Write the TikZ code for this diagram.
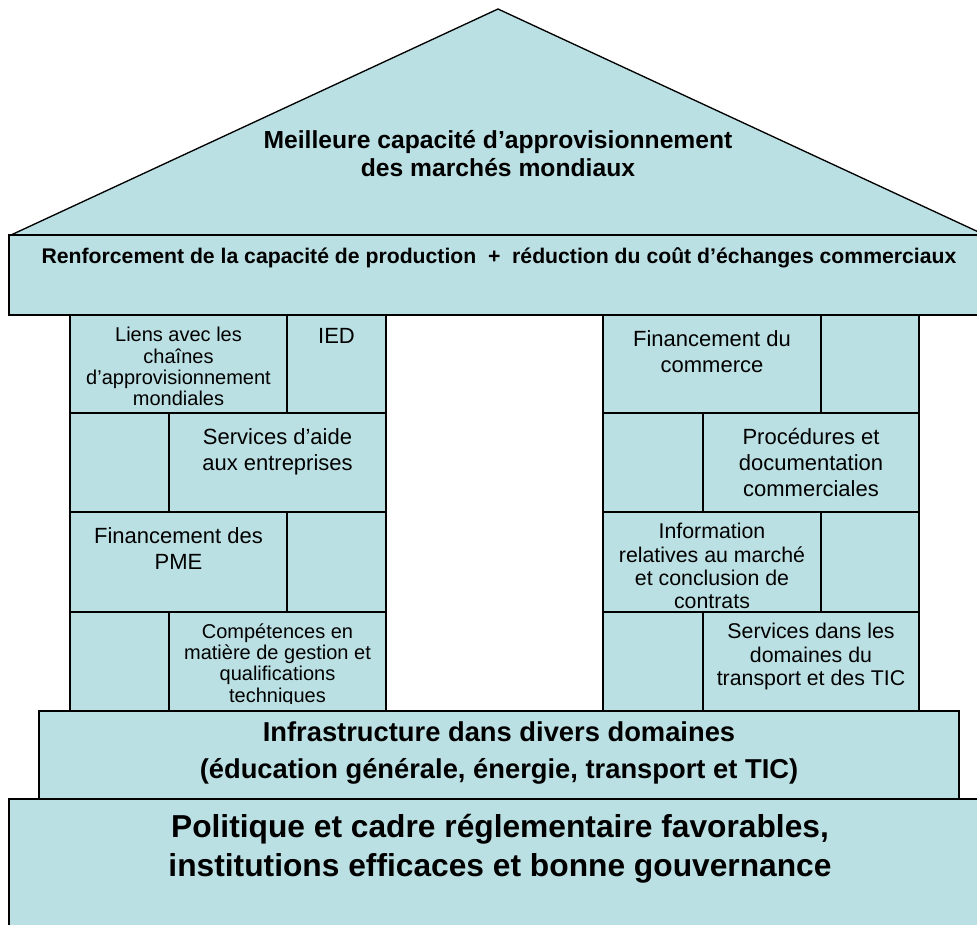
\documentclass[tikz,border=0pt]{standalone}
\usepackage{fontspec}
\setmainfont{Liberation Sans}
\definecolor{bleumaison}{RGB}{187,224,227}

\begin{document}
\begin{tikzpicture}[x=0.75pt,y=-0.75pt,
	bloc/.style={fill=bleumaison,draw=black,line width=1pt},
	grand/.style={anchor=north,align=center,inner sep=0pt,font=\fontsize{16.5pt}{19.5pt}\selectfont},
	moyen/.style={anchor=north,align=center,inner sep=0pt,font=\fontsize{16pt}{17.5pt}\selectfont},
	petit/.style={anchor=north,align=center,inner sep=0pt,font=\fontsize{15pt}{16pt}\selectfont}]
	\useasboundingbox (0,0) rectangle (977,924);
	\filldraw[bloc] (11,235) -- (498,9) -- (985,235) -- cycle; %toit
	\node[align=center,font=\bfseries\fontsize{18.5pt}{21pt}\selectfont] (toit) at (498,154)
		{Meilleure capacité d’approvisionnement\\des marchés mondiaux};
	\filldraw[bloc] (9,235) rectangle (985,315); %poutre
	\node[font=\bfseries\fontsize{15.9pt}{18pt}\selectfont] (poutre) at (499,258)
		{Renforcement de la capacité de production\ \ +\ \ réduction du coût d’échanges commerciaux};
	\foreach \xa/\ya/\xb/\yb in {70/315/287/413, 287/315/386/413, 70/413/169/512, 169/413/386/512,
		70/512/287/612, 287/512/386/612, 70/612/169/711, 169/612/386/711,
		603/315/821/413, 821/315/919/413, 603/413/703/512, 703/413/919/512,
		603/512/821/612, 821/512/919/612, 603/612/703/711, 703/612/919/711}{ %briques
		\filldraw[bloc] (\xa,\ya) rectangle (\xb,\yb);
	}
	%pilier gauche
	\node[petit] (liens) at (178.5,327) {Liens avec les\\chaînes\\d’approvisionnement\\mondiales};
	\node[grand] (ied) at (336.5,328) {IED};
	\node[grand] (aide) at (277.5,428) {Services d’aide\\aux entreprises};
	\node[grand] (pme) at (178.5,527) {Financement des\\PME};
	\begin{scope}
		\clip (169,612) rectangle (386,703); %texte coupe
		\node[petit] (competences) at (277.5,623) {Compétences en\\matière de gestion et\\qualifications\\techniques};
	\end{scope}
	%pilier droit
	\node[grand] (commerce) at (712,330) {Financement du\\commerce};
	\node[grand] (procedures) at (811,428) {Procédures et\\documentation\\commerciales};
	\node[moyen] (information) at (712,523) {Information\\relatives au marché\\et conclusion de\\contrats};
	\node[moyen] (transport) at (811,623) {Services dans les\\domaines du\\transport et des TIC};
	\filldraw[bloc] (39,711) rectangle (959,799); %infrastructure
	\node[align=center,font=\bfseries\fontsize{20.5pt}{27.5pt}\selectfont] (infra) at (499,753)
		{Infrastructure dans divers domaines\\(éducation générale, énergie, transport et TIC)};
	\filldraw[bloc] (9,799) rectangle (985,930); %socle
	\node[align=center,font=\bfseries\fontsize{23.8pt}{29.5pt}\selectfont] (socle) at (500,849)
		{Politique et cadre réglementaire favorables,\\institutions efficaces et bonne gouvernance};
\end{tikzpicture}
\end{document}
